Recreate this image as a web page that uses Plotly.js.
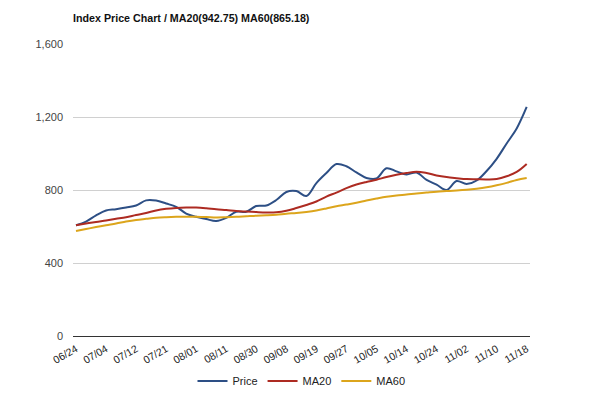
<!DOCTYPE html>
<html>
<head>
<meta charset="utf-8">
<script src="https://cdn.plot.ly/plotly-3.0.1.min.js"></script>
<style>html,body{margin:0;padding:0;background:#fff;}#chart{width:600px;height:395px;}</style>
</head>
<body>
<div id="chart"></div>
<script>
var tickLabels = ["06/24","07/04","07/12","07/21","08/01","08/11","08/30","09/08","09/19","09/27","10/05","10/14","10/24","11/02","11/10","11/18"];
var price = [607,627,661,688,695,704,715,743,742,726,708,671,653,641,630,647,681,681,712,715,745,789,794,767,838,893,942,930,896,866,863,919,902,885,896,855,829,800,849,833,852,904,971,1055,1137,1255];
var ma20 = [607,616,625,633,642,651,663,674,688,697,702,704,704,700,694,690,685,682,679,677,678,686,701,718,737,764,786,810,830,844,856,871,883,893,900,893,880,871,865,860,859,858,860,875,899,942.75];
var ma60 = [575,586,597,607,616,627,636,642,648,651,653,654,653,652,650,651,653,656,659,661,664,670,674,680,688,699,711,720,730,742,753,763,770,775,781,786,791,794,797,801,807,815,826,839,855,865.18];

var xs = price.map(function(_, i){ return i; });
var tickVals = tickLabels.map(function(_, k){ return k * 3; });

function tr(name, y, color){
  return {x: xs, y: y, name: name, type: 'scatter', mode: 'lines',
    line: {color: color, width: 2, shape: 'spline', smoothing: 1}, hoverinfo: 'skip'};
}
var data = [tr('Price', price, '#2d4f85'), tr('MA20', ma20, '#ad2b22'), tr('MA60', ma60, '#dca51c')];

var layout = {
  width: 600, height: 395,
  margin: {l: 73, r: 70, t: 44, b: 59},
  paper_bgcolor: '#fff', plot_bgcolor: '#fff',
  font: {family: 'Liberation Sans, Arial, sans-serif', size: 11, color: '#222'},
  title: {text: '<b>Index Price Chart / MA20(942.75) MA60(865.18)</b>', x: 73/600, xanchor: 'left', y: 1 - 18/395, yanchor: 'middle', font: {size: 10.7, color: '#111'}},
  xaxis: {range: [-0.3, 45.33], tickmode: 'array', tickvals: tickVals, ticktext: tickLabels, tickangle: -30, automargin: false,
    ticklabelstandoff: 4,
    showgrid: false, zeroline: false, showline: false, ticks: '', tickfont: {size: 10.5, color: '#222'}, fixedrange: true},
  yaxis: {range: [0, 1600], tickvals: [0,400,800,1200,1600], ticktext: ['0','400','800','1,200','1,600'], automargin: false,
    ticklabelstandoff: 9,
    showgrid: true, gridcolor: '#d0d0d0', gridwidth: 1, zeroline: true, zerolinecolor: '#333', zerolinewidth: 1,
    showline: false, ticks: '', tickfont: {size: 11, color: '#444'}, fixedrange: true},
  showlegend: true,
  legend: {orientation: 'h', x: 0.5, xanchor: 'center', xref: 'paper', yref: 'container', y: 1 - 381/395, yanchor: 'middle', itemwidth: 30, font: {size: 11, color: '#222'}}
};
Plotly.newPlot('chart', data, layout, {displayModeBar: false, staticPlot: true});
</script>
</body>
</html>
